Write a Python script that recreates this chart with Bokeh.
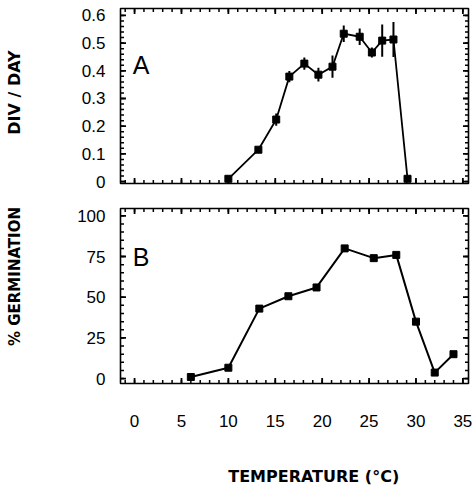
from bokeh.plotting import figure
from bokeh.layouts import column, row
from bokeh.models import (FixedTicker, LinearAxis, Label, Range1d, BasicTickFormatter)
from bokeh.embed import file_html
from bokeh.resources import INLINE
import numpy as np

# ---- data ----
temp_a = [10.0, 13.2, 15.1, 16.5, 18.1, 19.6, 21.1, 22.3, 24.0, 25.3, 26.4, 27.6, 29.1]
div_day = [0.01, 0.115, 0.224, 0.379, 0.426, 0.386, 0.415, 0.534, 0.523, 0.466, 0.509, 0.513, 0.01]
div_err = [0.0, 0.008, 0.022, 0.02, 0.022, 0.025, 0.04, 0.03, 0.03, 0.018, 0.058, 0.063, 0.0]

temp_b = [6.0, 10.0, 13.3, 16.4, 19.4, 22.4, 25.5, 27.9, 30.0, 32.0, 34.0]
germ = [1, 6.7, 43, 50.6, 56, 80, 74, 76, 35, 3.7, 15]

x_ticks = [0, 5, 10, 15, 20, 25, 30, 35]
ya_ticks = [0, 0.1, 0.2, 0.3, 0.4, 0.5, 0.6]
yb_ticks = [0, 25, 50, 75, 100]

x_title = "TEMPERATURE (°C)"
ya_title = "DIV / DAY"
yb_title = "% GERMINATION"

TICK_FONT = "Liberation Sans"
TITLE_FONT = "DejaVu Sans"

x_minor = list(range(-1, 36))
ya_minor = [round(float(v), 3) for v in np.arange(0, 0.62, 0.02)]
yb_minor = list(range(0, 105, 5))

W_MAIN = 434
FRAME_W = 348
FRAME_H = 175
MAJ_LEN = 5.5
MIN_LEN = 3.5


def add_inward_ticks(p, xr, yr, xt, xm, yt, ym):
    """Tick marks drawn inside the frame on all four sides (from the tick lists)."""
    dx = (xr[1] - xr[0]) / FRAME_W
    dy = (yr[1] - yr[0]) / FRAME_H
    for ticks, ln, lw in ((xt, MAJ_LEN, 1.8), (xm, MIN_LEN, 1.5)):
        t = [v for v in ticks if xr[0] <= v <= xr[1]]
        n = len(t)
        p.segment(x0=t, y0=[yr[0]] * n, x1=t, y1=[yr[0] + ln * dy] * n,
                  line_color="black", line_width=lw)
        p.segment(x0=t, y0=[yr[1]] * n, x1=t, y1=[yr[1] - ln * dy] * n,
                  line_color="black", line_width=lw)
    for ticks, ln, lw in ((yt, MAJ_LEN, 1.8), (ym, MIN_LEN, 1.5)):
        t = [v for v in ticks if yr[0] <= v <= yr[1]]
        n = len(t)
        p.segment(x0=[xr[0]] * n, y0=t, x1=[xr[0] + ln * dx] * n, y1=t,
                  line_color="black", line_width=lw)
        p.segment(x0=[xr[1]] * n, y0=t, x1=[xr[1] - ln * dx] * n, y1=t,
                  line_color="black", line_width=lw)


def make_fig(height, xr, yr, top_border, bottom_border):
    p = figure(width=W_MAIN, height=height, output_backend="svg", toolbar_location=None,
               x_range=Range1d(*xr), y_range=Range1d(*yr),
               min_border_left=80, min_border_right=6,
               min_border_top=top_border, min_border_bottom=bottom_border,
               x_axis_location=None, y_axis_location=None)
    p.grid.visible = False
    p.outline_line_color = "black"
    p.outline_line_width = 1.6
    p.background_fill_color = "white"
    p.border_fill_color = "white"
    return p


def tick_axis(ticks, standoff):
    ax = LinearAxis(ticker=FixedTicker(ticks=ticks))
    ax.axis_line_color = None
    ax.major_tick_in = 0
    ax.major_tick_out = 0
    ax.minor_tick_line_color = None
    ax.major_label_standoff = standoff
    ax.major_label_text_font = TICK_FONT
    ax.major_label_text_font_size = "17px"
    ax.major_label_text_color = "black"
    return ax


XR = (-1.5, 35.6)
YA = (-0.007, 0.625)
YB = (-3, 104.5)

# ---- panel A ----
pa = make_fig(196, XR, YA, 8, 13)
la = tick_axis(ya_ticks, 15)
la.formatter = BasicTickFormatter(precision=1)
la.major_label_overrides = {0: "0"}
pa.add_layout(la, "left")
add_inward_ticks(pa, XR, YA, x_ticks, x_minor, ya_ticks, ya_minor)

lo = [y - e for y, e in zip(div_day, div_err)]
hi = [y + e for y, e in zip(div_day, div_err)]
pa.segment(x0=temp_a, y0=lo, x1=temp_a, y1=hi, line_color="black", line_width=2)
pa.line(temp_a, div_day, line_color="black", line_width=1.8)
pa.scatter(temp_a, div_day, marker="square", size=7, color="black")
pa.add_layout(Label(x=-0.2, y=0.42, text="A", text_font=TICK_FONT, text_font_size="25px",
                    text_baseline="alphabetic", text_color="black"))

# ---- panel B ----
pb = make_fig(239, XR, YB, 12, 52)
lb = tick_axis(yb_ticks, 15)
pb.add_layout(lb, "left")
bx = tick_axis(x_ticks, 31)
pb.add_layout(bx, "below")
add_inward_ticks(pb, XR, YB, x_ticks, x_minor, yb_ticks, yb_minor)

pb.line(temp_b, germ, line_color="black", line_width=2)
pb.scatter(temp_b, germ, marker="square", size=7, color="black")
pb.add_layout(Label(x=-0.2, y=74.5, text="B", text_font=TICK_FONT, text_font_size="25px",
                    text_baseline="alphabetic", text_color="black"))

# ---- strip below for the x title ----
pt = figure(width=W_MAIN, height=52, output_backend="svg", toolbar_location=None,
            x_range=Range1d(*XR), y_range=Range1d(52, 0),
            min_border_left=80, min_border_right=6, min_border_top=0, min_border_bottom=0,
            x_axis_location=None, y_axis_location=None)
pt.grid.visible = False
pt.outline_line_color = None
pt.add_layout(Label(x=19.1, y=41, text=x_title, text_font=TITLE_FONT,
                    text_font_style="bold", text_font_size="16px",
                    text_align="center", text_baseline="middle", text_color="black"))

# ---- strip at the left for the y titles ----
pl = figure(width=40, height=487, output_backend="svg", toolbar_location=None,
            x_range=Range1d(0, 40), y_range=Range1d(487, 0),
            min_border_left=0, min_border_right=0, min_border_top=0, min_border_bottom=0,
            x_axis_location=None, y_axis_location=None)
pl.grid.visible = False
pl.outline_line_color = None
pl.add_layout(Label(x=14, y=92, text=ya_title, text_font=TITLE_FONT, text_font_style="bold",
                    text_font_size="16px", angle=np.pi / 2, text_align="center",
                    text_baseline="middle", text_color="black"))
pl.add_layout(Label(x=14, y=276, text=yb_title, text_font=TITLE_FONT, text_font_style="bold",
                    text_font_size="15px", angle=np.pi / 2, text_align="center",
                    text_baseline="middle", text_color="black"))

layout = row(pl, column(pa, pb, pt, spacing=0), spacing=0)
open("out.html", "w").write(file_html(layout, INLINE))
